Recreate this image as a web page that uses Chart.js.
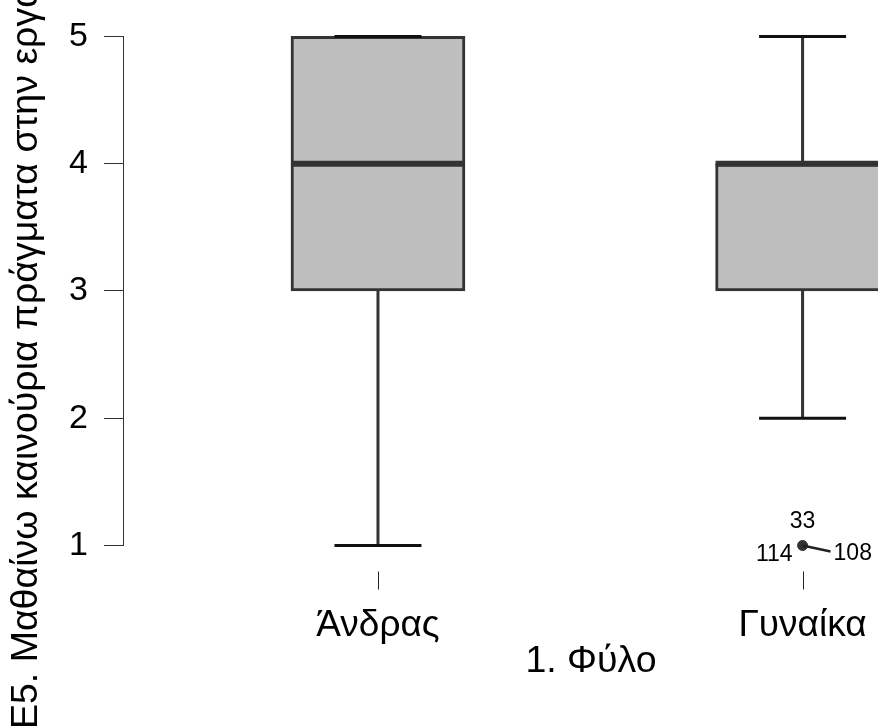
<!DOCTYPE html>
<html><head><meta charset="utf-8">
<script src="https://cdn.jsdelivr.net/npm/chart.js@4.4.0/dist/chart.umd.min.js"></script>
<style>html,body{margin:0;padding:0;background:#fff;overflow:hidden}canvas{display:block}</style>
</head><body>
<canvas id="c" width="878" height="726"></canvas>
<script>
// Box plot summary per group
const categories = ['Άνδρας', 'Γυναίκα'];
const whiskerLow = [1, 2];
const q1 = [3, 3];
const median = [4, 4];
const q3 = [5, 4];
const whiskerHigh = [5, 5];
// Outliers: group index, value, case labels
const outlierGroup = [1];
const outlierValue = [1];
const outlierIds = [['33', '114', '108']];
const yTicks = [1, 2, 3, 4, 5];
const xTitle = '1. Φύλο';
const yTitle = 'Ε5. Μαθαίνω καινούρια πράγματα στην εργασία μου';

const FONT = 'Liberation Sans, Arial, sans-serif';
const DARK = '#333333';

const boxParts = {
  id: 'boxParts',
  afterDatasetsDraw(chart) {
    const { ctx, scales: { x, y } } = chart;
    const bars = chart.getDatasetMeta(0).data;
    ctx.save();
    categories.forEach((c, i) => {
      const cx = x.getPixelForValue(i + 1);
      const w = bars[i].width;
      const cap = w / 2;
      ctx.strokeStyle = DARK;
      ctx.lineWidth = 3;
      ctx.lineCap = 'butt';
      ctx.beginPath();
      ctx.moveTo(cx, y.getPixelForValue(whiskerLow[i]));
      ctx.lineTo(cx, y.getPixelForValue(q1[i]));
      ctx.moveTo(cx, y.getPixelForValue(q3[i]));
      ctx.lineTo(cx, y.getPixelForValue(whiskerHigh[i]));
      ctx.stroke();
      ctx.strokeStyle = '#111';
      ctx.beginPath();
      ctx.moveTo(cx - cap / 2, y.getPixelForValue(whiskerLow[i]));
      ctx.lineTo(cx + cap / 2, y.getPixelForValue(whiskerLow[i]));
      ctx.moveTo(cx - cap / 2, y.getPixelForValue(whiskerHigh[i]));
      ctx.lineTo(cx + cap / 2, y.getPixelForValue(whiskerHigh[i]));
      ctx.stroke();
      ctx.strokeStyle = DARK;
      ctx.lineWidth = 6;
      ctx.beginPath();
      ctx.moveTo(cx - w / 2, y.getPixelForValue(median[i]));
      ctx.lineTo(cx + w / 2, y.getPixelForValue(median[i]));
      ctx.stroke();
    });
    // outlier case labels
    ctx.fillStyle = '#000';
    ctx.font = '23px ' + FONT;
    outlierGroup.forEach((g, k) => {
      const px = x.getPixelForValue(g + 1);
      const py = y.getPixelForValue(outlierValue[k]);
      const ids = outlierIds[k];
      ctx.textBaseline = 'middle';
      ctx.textAlign = 'center';
      ctx.fillText(ids[0], px, py - 24);
      ctx.textAlign = 'right';
      ctx.fillText(ids[1], px - 10, py + 9);
      ctx.textAlign = 'left';
      ctx.fillText(ids[2], px + 31, py + 8);
      ctx.lineWidth = 2.5;
      ctx.strokeStyle = '#222';
      ctx.beginPath();
      ctx.moveTo(px, py);
      ctx.lineTo(px + 28, py + 6);
      ctx.stroke();
    });
    // x tick marks
    ctx.strokeStyle = '#222';
    ctx.lineWidth = 1;
    const b = chart.chartArea.bottom;
    categories.forEach((c, i) => {
      const cx = Math.round(x.getPixelForValue(i + 1)) + 0.5;
      ctx.beginPath();
      ctx.moveTo(cx, b + 26);
      ctx.lineTo(cx, b + 44);
      ctx.stroke();
    });
    // axis titles
    ctx.fillStyle = '#000';
    ctx.font = '37.5px ' + FONT;
    ctx.textAlign = 'center';
    ctx.textBaseline = 'middle';
    ctx.fillText(xTitle, 591, b + 116);
    ctx.translate(27, 729);
    ctx.rotate(-Math.PI / 2);
    ctx.textAlign = 'left';
    ctx.fillText(yTitle, 0, 0);
    ctx.restore();
  }
};

new Chart(document.getElementById('c'), {
  type: 'bar',
  data: {
    datasets: [
      {
        type: 'bar',
        data: categories.map((c, i) => ({ x: i + 1, y: [q1[i], q3[i]] })),
        backgroundColor: '#bebebe',
        borderColor: DARK,
        borderWidth: 3,
        borderSkipped: false,
        barThickness: 174,
        clip: false
      },
      {
        type: 'line',
        showLine: false,
        data: outlierGroup.map((g, k) => ({ x: g + 1, y: outlierValue[k] })),
        pointRadius: 5,
        pointBackgroundColor: DARK,
        pointBorderColor: DARK,
        clip: false
      }
    ]
  },
  options: {
    responsive: false,
    animation: false,
    devicePixelRatio: 1,
    layout: { padding: { top: 35, left: 0, right: 0, bottom: 0 } },
    plugins: { legend: { display: false }, tooltip: { enabled: false } },
    scales: {
      x: {
        type: 'linear',
        offset: false,
        min: 0.3995,
        max: 2.1635,
        afterBuildTicks: s => { s.ticks = categories.map((c, i) => ({ value: i + 1 })); },
        afterFit: s => { s.height = 180.5; s.paddingLeft = 0; s.paddingRight = 0; },
        grid: { display: false, offset: false },
        border: { display: false },
        ticks: {
          callback: v => categories[v - 1],
          font: { family: FONT, size: 37 },
          color: '#000',
          padding: 50,
          maxRotation: 0,
          autoSkip: false
        }
      },
      y: {
        min: 1,
        max: 5,
        afterBuildTicks: s => { s.ticks = yTicks.map(v => ({ value: v })); },
        afterFit: s => { s.width = 123; },
        grid: { drawOnChartArea: false, tickLength: 19, color: DARK, tickWidth: 1 },
        border: { color: DARK, width: 1 },
        ticks: { font: { family: FONT, size: 34 }, color: '#000', padding: 16 }
      }
    }
  },
  plugins: [boxParts]
});
</script>
</body></html>
